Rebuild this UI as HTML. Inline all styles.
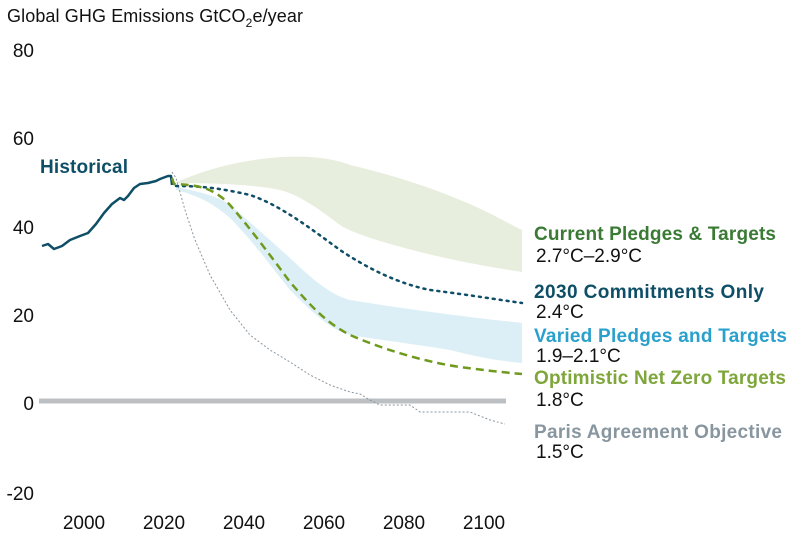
<!DOCTYPE html>
<html><head><meta charset="utf-8"><style>
body{margin:0;background:#fff;}
svg{display:block;font-family:"Liberation Sans",sans-serif;}
</style></head><body>
<svg width="800" height="536" viewBox="0 0 800 536">
<text x="7" y="22" font-size="18" fill="#111" textLength="296">Global GHG Emissions GtCO<tspan font-size="12" dy="5">2</tspan><tspan dy="-5">e/year</tspan></text>
<g font-size="19" fill="#111" text-anchor="end">
<text x="34" y="57">80</text><text x="34" y="145">60</text><text x="34" y="234">40</text>
<text x="34" y="322">20</text><text x="34" y="410">0</text><text x="34" y="500">-20</text>
</g>
<g font-size="19" fill="#111" text-anchor="middle">
<text x="84" y="529">2000</text><text x="164" y="529">2020</text><text x="244" y="529">2040</text>
<text x="324" y="529">2060</text><text x="404" y="529">2080</text><text x="484" y="529">2100</text>
</g>
<path d="M174,183 C200,172 230,162 270,158 C300,155 330,157 350,165 C380,172 420,183 460,200 C490,212 505,222 522,230 L522,272 C490,267 460,262 420,252 C380,242 350,232 340,225 C320,210 300,195 280,190 C250,184 210,183 174,183Z" fill="#e8eedd"/>
<path d="M176,187 C200,192 215,195 230,205 C250,222 270,240 290,258 C310,277 330,295 350,300 C400,308 450,315 522,323 L522,363 C490,360 470,355 450,350 C420,345 380,340 350,335 C330,330 310,310 290,290 C270,265 250,238 230,218 C215,205 200,196 176,190Z" fill="#ddeff6"/>
<line x1="39" y1="401" x2="506" y2="401" stroke="#bcc0c3" stroke-width="5"/>
<polyline points="172,172 176,178 185,210 195,240 210,275 230,310 250,335 270,350 290,362 310,375 330,385 350,392 360,394 370,400 380,405 410,405 420,412 470,412 490,420 505,424" fill="none" stroke="#8a96a0" stroke-width="1" stroke-dasharray="2,2"/>
<polyline points="42,246 48,244 54,249 62,246 70,240 80,236 88,233 96,224 104,213 112,204 120,198 124,200 128,196 134,188 140,184 148,183 156,181 160,179 168,176 171,176 172,185" fill="none" stroke="#0e4e66" stroke-width="2.5" stroke-linejoin="round"/>
<path d="M176,186 C200,186 220,188 250,195 C280,205 310,228 340,250 C370,270 400,284 430,290 C470,295 500,300 522,303" fill="none" stroke="#0e4e66" stroke-width="2.5" stroke-dasharray="2,5" stroke-linecap="round"/>
<path d="M172,178 L174,184 C195,185 212,186 230,205 C250,228 270,255 290,282 C310,305 325,322 350,335 C380,348 420,361 460,367 C490,371 510,373 522,374" fill="none" stroke="#6f9a1e" stroke-width="2.5" stroke-dasharray="8,5"/>
<g font-size="19">
<text x="534" y="240" font-weight="bold" fill="#3a7a34" textLength="242">Current Pledges &amp; Targets</text>
<text x="536" y="262" fill="#111">2.7°C–2.9°C</text>
<text x="534" y="298" font-weight="bold" fill="#0e4e66" textLength="230">2030 Commitments Only</text>
<text x="536" y="318" fill="#111">2.4°C</text>
<text x="534" y="342" font-weight="bold" fill="#2aa0cc" textLength="253">Varied Pledges and Targets</text>
<text x="536" y="362" fill="#111">1.9–2.1°C</text>
<text x="534" y="384" font-weight="bold" fill="#7ea63a" textLength="252">Optimistic Net Zero Targets</text>
<text x="536" y="406" fill="#111">1.8°C</text>
<text x="534" y="438" font-weight="bold" fill="#8896a0" textLength="248">Paris Agreement Objective</text>
<text x="536" y="458" fill="#111">1.5°C</text>
<text x="40" y="173" font-weight="bold" fill="#0e4e66" textLength="88">Historical</text>
</g>
</svg>
</body></html>
